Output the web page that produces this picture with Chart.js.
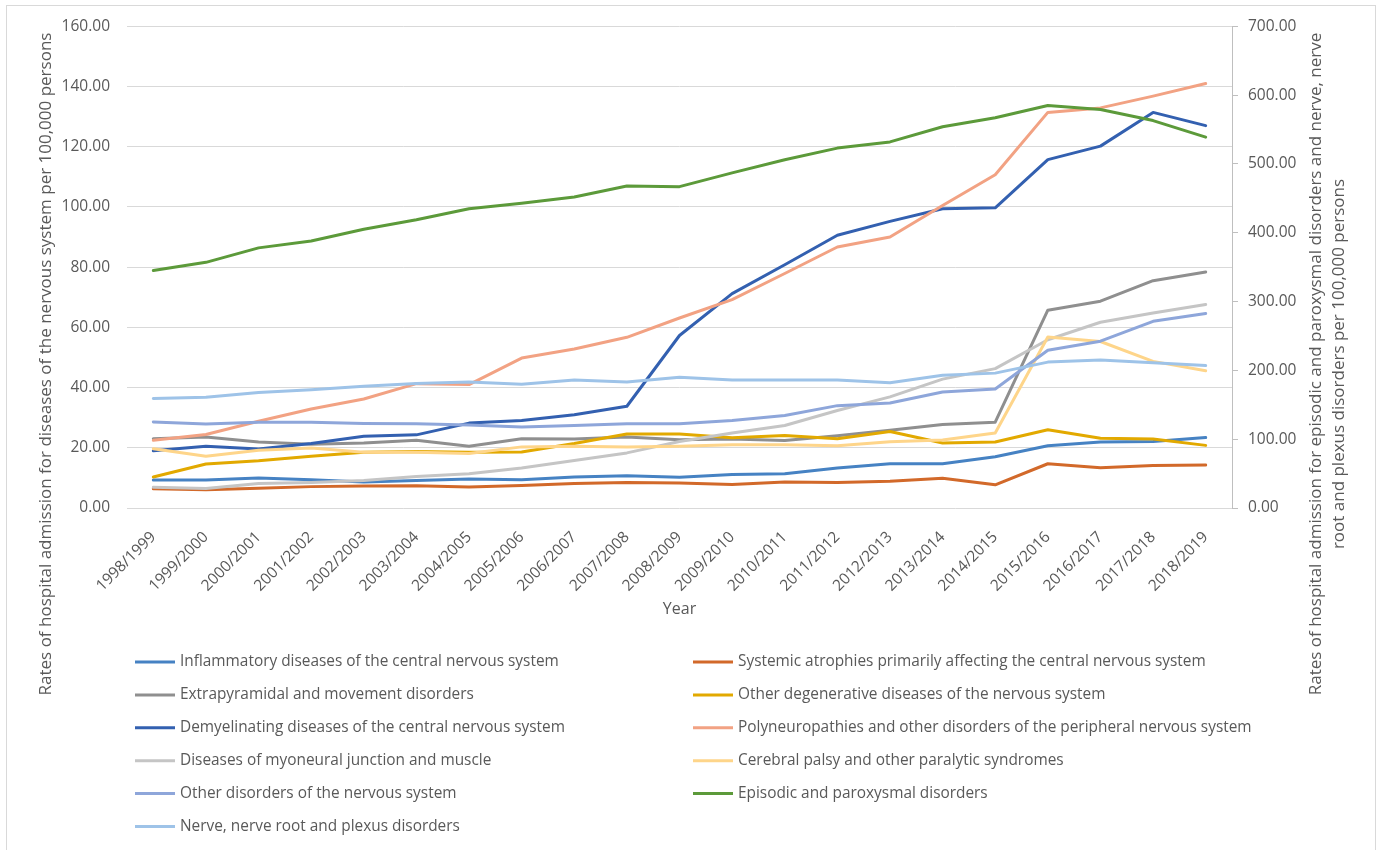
<!DOCTYPE html>
<html>
<head>
<meta charset="utf-8">
<script src="https://cdn.jsdelivr.net/npm/chart.js@4.4.1/dist/chart.umd.min.js"></script>
<style>
  html, body { margin: 0; padding: 0; background: #fff; }
  #wrap { width: 1380px; height: 850px; }
</style>
</head>
<body>
<div id="wrap"><canvas id="chart" width="1380" height="850"></canvas></div>
<script>
const years = [
  '1998/1999', '1999/2000', '2000/2001', '2001/2002', '2002/2003', '2003/2004', '2004/2005',
  '2005/2006', '2006/2007', '2007/2008', '2008/2009', '2009/2010', '2010/2011', '2011/2012',
  '2012/2013', '2013/2014', '2014/2015', '2015/2016', '2016/2017', '2017/2018', '2018/2019',
];

// left axis series (rates per 100,000)
const inflammatory = [9.3, 9.3, 10.0, 9.4, 8.6, 9.1, 9.6, 9.4, 10.3, 10.7, 10.2, 11.1, 11.4, 13.3, 14.7, 14.7, 17.0, 20.7, 21.9, 22.1, 23.4];
const systemic = [6.4, 6.1, 6.6, 7.1, 7.3, 7.4, 7.0, 7.5, 8.1, 8.5, 8.3, 7.8, 8.6, 8.5, 8.9, 9.9, 7.7, 14.7, 13.4, 14.1, 14.3];
const extrapyramidal = [23.0, 23.6, 21.9, 21.2, 21.6, 22.5, 20.5, 23.0, 22.9, 23.6, 22.7, 22.9, 22.4, 24.0, 25.8, 27.7, 28.5, 65.7, 68.7, 75.5, 78.4];
const otherDegenerative = [10.3, 14.6, 15.7, 17.2, 18.5, 18.8, 18.5, 18.6, 21.4, 24.6, 24.6, 23.3, 24.1, 23.0, 25.4, 21.6, 21.9, 26.0, 23.2, 22.9, 20.8];
const demyelinating = [19.0, 20.5, 19.6, 21.4, 23.8, 24.3, 28.2, 29.1, 31.0, 33.8, 57.3, 71.2, 80.8, 90.6, 95.2, 99.4, 99.7, 115.7, 120.2, 131.4, 127.0];
const polyneuropathies = [22.5, 24.4, 28.8, 32.9, 36.2, 41.3, 41.0, 49.8, 52.8, 56.7, 63.1, 69.2, 77.9, 86.7, 90.0, 100.5, 110.7, 131.4, 132.9, 136.8, 141.0];
const myoneural = [6.9, 6.5, 8.1, 8.5, 9.1, 10.5, 11.4, 13.3, 15.8, 18.3, 22.1, 24.9, 27.4, 32.4, 36.9, 42.8, 46.3, 55.9, 61.7, 64.8, 67.6];
const cerebralPalsy = [19.7, 17.2, 19.2, 19.9, 18.5, 18.5, 18.1, 20.3, 20.5, 20.3, 20.5, 21.0, 21.0, 20.7, 22.0, 22.6, 24.9, 56.8, 55.3, 48.7, 45.6];
const otherDisorders = [28.6, 27.9, 28.5, 28.5, 28.1, 28.0, 27.6, 26.9, 27.4, 28.0, 28.0, 29.1, 30.7, 34.0, 34.9, 38.5, 39.5, 52.4, 55.4, 62.0, 64.6];

// right axis series
const episodic = [345, 357, 378, 388, 405, 419, 435, 443, 452, 468, 467, 487, 506, 523, 532, 554, 567, 585, 579, 563, 539];
const nerveRoot = [159, 161, 168, 172, 177, 181, 183, 180, 186, 183, 190, 186, 186, 186, 182, 193, 196, 212, 215, 211, 207];

const leftTitle = 'Rates of hospital admission for diseases of the nervous system per 100,000 persons';
const rightTitle = [
  'Rates of hospital admission for episodic and paroxysmal disorders and nerve, nerve',
  'root and plexus disorders per 100,000 persons',
];

const FONT = '"Open Sans", "Noto Sans", sans-serif';
const TEXT = '#595959';

function series(label, data, color, axis, i) {
  return {
    label, data,
    borderColor: color,
    backgroundColor: color,
    borderWidth: 3,
    pointRadius: 0,
    pointHoverRadius: 0,
    tension: 0,
    borderJoinStyle: 'round',
    borderCapStyle: 'round',
    fill: false,
    yAxisID: axis,
    order: -i,
  };
}

const datasets = [
  series('Inflammatory diseases of the central nervous system', inflammatory, '#4682c3', 'y', 0),
  series('Systemic atrophies primarily affecting the central nervous system', systemic, '#d2692a', 'y', 1),
  series('Extrapyramidal and movement disorders', extrapyramidal, '#8f8f8f', 'y', 2),
  series('Other degenerative diseases of the nervous system', otherDegenerative, '#e2a900', 'y', 3),
  series('Demyelinating diseases of the central nervous system', demyelinating, '#3360b0', 'y', 4),
  series('Polyneuropathies and other disorders of the peripheral nervous system', polyneuropathies, '#f2a283', 'y', 5),
  series('Diseases of myoneural junction and muscle', myoneural, '#c5c5c5', 'y', 6),
  series('Cerebral palsy and other paralytic syndromes', cerebralPalsy, '#fed58a', 'y', 7),
  series('Other disorders of the nervous system', otherDisorders, '#8ea6da', 'y', 8),
  series('Episodic and paroxysmal disorders', episodic, '#5c9a3a', 'y1', 9),
  series('Nerve, nerve root and plexus disorders', nerveRoot, '#9ec3e8', 'y1', 10),
];

// frame, rotated axis titles and the two-column legend
const decorPlugin = {
  id: 'decor',
  afterDraw(chart) {
    const ctx = chart.ctx;
    ctx.save();
    ctx.strokeStyle = '#d9d9d9';
    ctx.lineWidth = 1;
    ctx.strokeRect(6.5, 5.5, 1369, 870);

    ctx.fillStyle = TEXT;
    ctx.font = '17px ' + FONT;
    ctx.textAlign = 'center';
    ctx.textBaseline = 'middle';

    ctx.save();
    ctx.translate(46, 364);
    ctx.rotate(-Math.PI / 2);
    ctx.fillText(leftTitle, 0, 0);
    ctx.restore();

    ctx.save();
    ctx.translate(1316, 364);
    ctx.rotate(-Math.PI / 2);
    ctx.fillText(rightTitle[0], 0, 0);
    ctx.fillText(rightTitle[1], 0, 23);
    ctx.restore();

    ctx.font = '15.4px ' + FONT;
    ctx.textAlign = 'left';
    chart.data.datasets.forEach((ds, i) => {
      const x = i % 2 === 0 ? 135 : 693;
      const y = 662 + Math.floor(i / 2) * 32.9;
      ctx.strokeStyle = ds.borderColor;
      ctx.lineWidth = 3;
      ctx.beginPath();
      ctx.moveTo(x, y);
      ctx.lineTo(x + 40, y);
      ctx.stroke();
      ctx.fillText(ds.label, x + 45, y);
    });
    ctx.restore();
  },
};

new Chart(document.getElementById('chart'), {
  type: 'line',
  data: { labels: years, datasets },
  plugins: [decorPlugin],
  options: {
    responsive: false,
    animation: false,
    layout: { padding: { top: 26, left: 0, right: 0, bottom: 227 } },
    plugins: {
      legend: { display: false },
      tooltip: { enabled: false },
    },
    scales: {
      x: {
        offset: true,
        grid: { display: false },
        border: { display: false },
        ticks: {
          autoSkip: false,
          minRotation: 45,
          maxRotation: 45,
          padding: 12,
          color: TEXT,
          font: { family: FONT, size: 15.5 },
        },
        title: {
          display: true,
          text: 'Year',
          color: TEXT,
          font: { family: FONT, size: 16 },
          padding: { top: 4, bottom: 4 },
        },
        afterFit(scale) { scale.height = 115; },
      },
      y: {
        position: 'left',
        min: 0,
        max: 160,
        grid: { color: '#d9d9d9', lineWidth: 1, drawTicks: false },
        border: { display: false },
        ticks: {
          stepSize: 20,
          padding: 17,
          color: TEXT,
          font: { family: FONT, size: 15.5 },
          callback: v => v.toFixed(2),
        },
        afterFit(scale) { scale.width = 127; },
      },
      y1: {
        position: 'right',
        min: 0,
        max: 700,
        grid: { drawOnChartArea: false, drawTicks: true, tickLength: 6, color: '#bfbfbf' },
        border: { display: true, color: '#bfbfbf' },
        ticks: {
          stepSize: 100,
          padding: 10,
          color: TEXT,
          font: { family: FONT, size: 15.5 },
          callback: v => v.toFixed(2),
        },
        afterFit(scale) { scale.width = 148; },
      },
    },
  },
});
</script>
</body>
</html>
